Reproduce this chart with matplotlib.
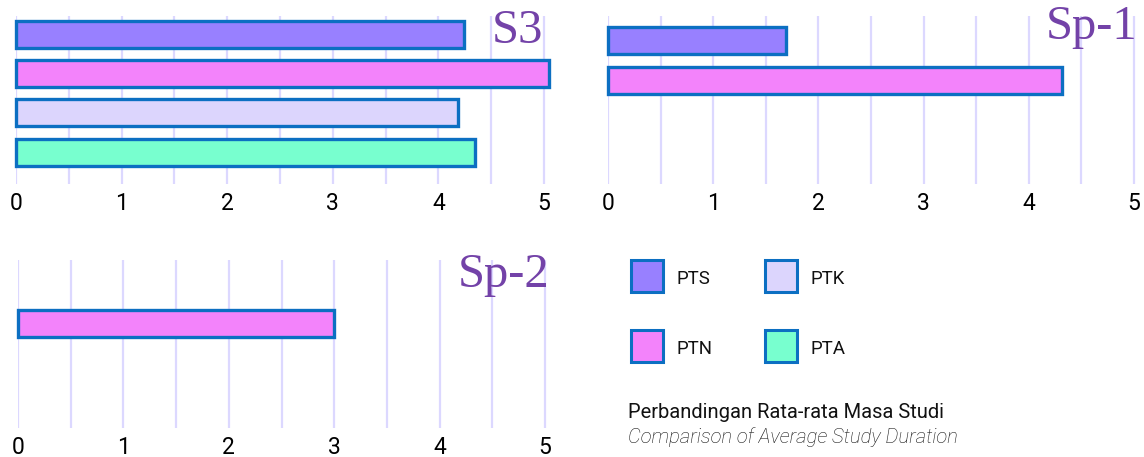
import matplotlib
matplotlib.use("Agg")
import matplotlib.pyplot as plt
from matplotlib.patches import Rectangle

# ---- data ----
categories = ["PTS", "PTN", "PTK", "PTA"]
s3_values = [4.24, 5.05, 4.19, 4.35]
sp1_categories = ["PTS", "PTN"]
sp1_values = [1.69, 4.32]
sp2_categories = ["PTN"]
sp2_values = [3.0]
xticks = [0, 1, 2, 3, 4, 5]

colors = {"PTS": "#9880ff", "PTN": "#f383fb", "PTK": "#dcd5fd", "PTA": "#78ffcf"}
EDGE = "#0c6fc2"
GRID = "#dcd8ff"
TITLE = "#7342a8"

W, H = 1144, 457
fig = plt.figure(figsize=(W / 100, H / 100), dpi=100)


def px_axes(x0, x1, ytop, ybot):
    return fig.add_axes([x0 / W, 1 - ybot / H, (x1 - x0) / W, (ybot - ytop) / H])


def style(ax, xmax):
    ax.set_xlim(0, xmax)
    ax.set_xticks(xticks)
    ax.set_xticks([i + 0.5 for i in range(5)], minor=True)
    ax.grid(True, axis="x", which="both", color=GRID, linewidth=1.6, zorder=0)
    ax.set_axisbelow(True)
    for s in ax.spines.values():
        s.set_visible(False)
    ax.tick_params(axis="x", which="both", length=0, pad=5.5, labelsize=16.5)
    ax.set_yticks([])
    for lab in ax.get_xticklabels():
        lab.set_fontfamily("Roboto")


def bars(ax, cats, vals, h):
    ax.barh(range(len(cats)), vals, height=h, color=[colors[c] for c in cats],
            edgecolor=EDGE, linewidth=2.4, zorder=3, clip_on=False)


# top-left: S3
u = 105.6
ax1 = px_axes(16, 16 + 5.15 * u, 16, 184)
bars(ax1, categories, s3_values, 0.69)
ax1.set_ylim(3.81, -0.466)
style(ax1, 5.15)

# top-right: Sp-1
u = 105.2
ax2 = px_axes(608, 608 + 5.05 * u, 16, 184)
bars(ax2, sp1_categories, sp1_values, 0.675)
ax2.set_ylim(3.6, -0.6)
style(ax2, 5.05)

# bottom-left: Sp-2
u = 105.4
ax3 = px_axes(18, 18 + 5.1 * u, 260, 428)
bars(ax3, sp2_categories, sp2_values, 0.675)
ax3.set_ylim(2.62, -1.58)
style(ax3, 5.1)

# panel titles
tfont = dict(family="Liberation Serif", fontsize=35, color=TITLE, ha="right", va="baseline")
fig.text(543 / W, 1 - 43 / H, "S3", **tfont)
fig.text(1137 / W, 1 - 39 / H, "Sp-1", **tfont)
fig.text(549 / W, 1 - 287 / H, "Sp-2", **tfont)

# legend
leg = [("PTS", 631, 260), ("PTK", 765, 260), ("PTN", 631, 330), ("PTA", 765, 330)]
for name, x, y in leg:
    fig.add_artist(Rectangle((x / W, 1 - (y + 32) / H), 32 / W, 32 / H,
                             transform=fig.transFigure, facecolor=colors[name],
                             edgecolor=EDGE, linewidth=2.2))
    fig.text((x + 45) / W, 1 - (y + 24.5) / H, name, family="Roboto",
             fontsize=13.4, color="#111111", ha="left", va="baseline")

# caption
fig.text(628 / W, 1 - 418 / H, "Perbandingan Rata-rata Masa Studi", family="Roboto",
         fontsize=14.5, color="#111111", ha="left", va="baseline")
fig.text(628 / W, 1 - 443 / H, "Comparison of Average Study Duration", family="Roboto",
         fontsize=14.6, fontstyle="italic", fontweight="light", color="#111111",
         ha="left", va="baseline")

fig.savefig("out.png", dpi=100)
